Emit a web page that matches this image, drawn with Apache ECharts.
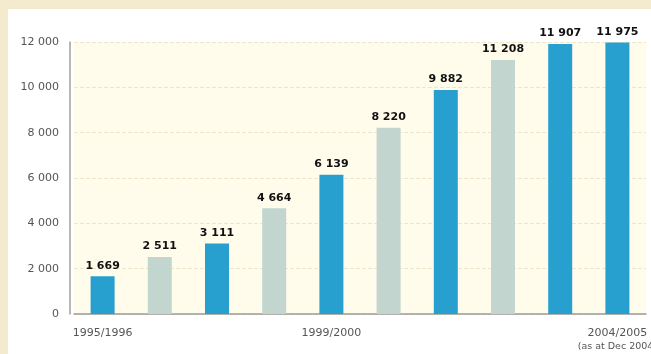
<!DOCTYPE html>
<html>
<head>
<meta charset="utf-8">
<script src="https://cdn.jsdelivr.net/npm/echarts@6/dist/echarts.min.js"></script>
<style>
  html, body { margin: 0; padding: 0; background: #f4ebcf; }
  #chart { position: absolute; left: 8px; top: 9px; width: 643px; height: 345px; }
</style>
</head>
<body>
<div id="chart"></div>
<script>
// categories (school years) and values
var years = ['1995/1996', '1996/1997', '1997/1998', '1998/1999', '1999/2000',
             '2000/2001', '2001/2002', '2002/2003', '2003/2004', '2004/2005'];
var counts = [1669, 2511, 3111, 4664, 6139, 8220, 9882, 11208, 11907, 11975];
var shownYears = ['1995/1996', '1999/2000', '2004/2005'];
var yTicks = [0, 2000, 4000, 6000, 8000, 10000, 12000];

function fmt(v) {
  return String(v).replace(/\B(?=(\d{3})+(?!\d))/g, ' ');
}

var chart = echarts.init(document.getElementById('chart'));
var option = {
  backgroundColor: '#fff',
  animation: false,
  grid: {
    left: 66, right: 5, top: 33, bottom: 40,
    outerBoundsMode: 'none',
    show: true, backgroundColor: '#fffcec', borderWidth: 0
  },
  xAxis: {
    type: 'category',
    data: years,
    axisLine: { lineStyle: { color: '#9a9a9a', width: 1.5 } },
    axisTick: { show: false },
    axisLabel: {
      interval: function (i, name) { return shownYears.indexOf(name) >= 0; },
      color: '#555',
      fontFamily: 'DejaVu Sans',
      fontSize: 11,
      margin: 12,
      lineHeight: 14,
      formatter: function (name) {
        if (name === '2004/2005') return name + '\n{s|(as at Dec 2004)}';
        return name;
      },
      rich: { s: { fontSize: 9.5, color: '#555', fontFamily: 'DejaVu Sans' } }
    }
  },
  yAxis: {
    type: 'value',
    min: yTicks[0],
    max: yTicks[yTicks.length - 1],
    interval: 2000,
    offset: 4,
    axisLine: { show: true, lineStyle: { color: '#a0a0a0', width: 1.5 } },
    axisTick: { show: false },
    splitLine: { lineStyle: { color: '#ece6cc', type: 'dashed' } },
    axisLabel: {
      color: '#555',
      fontFamily: 'DejaVu Sans',
      fontSize: 11,
      margin: 11,
      formatter: function (v) { return fmt(v); }
    }
  },
  series: [{
    type: 'bar',
    data: counts,
    barWidth: 24,
    itemStyle: {
      color: function (p) {
        return (p.dataIndex % 2 === 1 && p.dataIndex < 8) ? '#c2d6cf' : '#28a0cf';
      }
    },
    label: {
      show: true,
      position: 'top',
      distance: 5,
      color: '#111',
      fontWeight: 'bold',
      fontFamily: 'DejaVu Sans',
      fontSize: 11,
      formatter: function (p) { return fmt(p.value); }
    }
  }]
};
chart.setOption(option);
</script>
</body>
</html>
